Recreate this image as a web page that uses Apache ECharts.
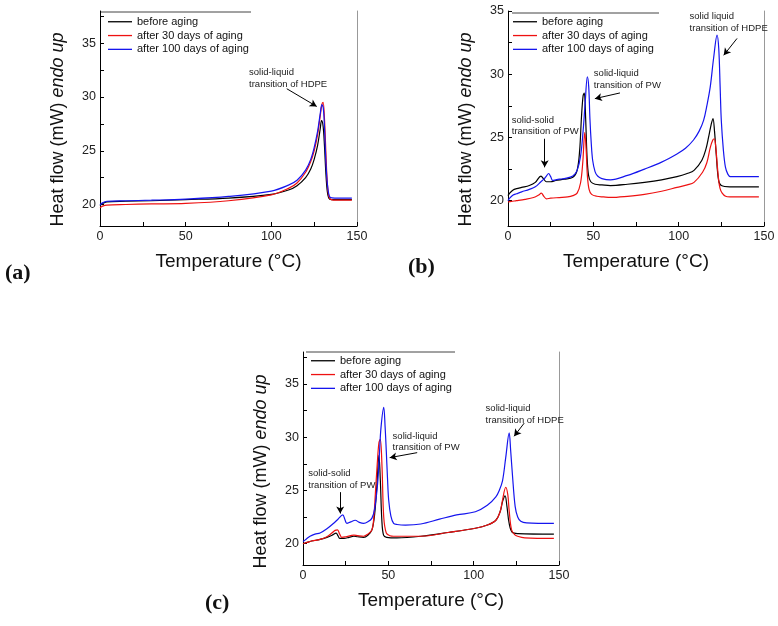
<!DOCTYPE html>
<html>
<head>
<meta charset="utf-8">
<script src="https://cdn.jsdelivr.net/npm/echarts@6/dist/echarts.min.js"></script>
<style>
html,body{margin:0;padding:0;background:#fff;}
#c{width:778px;height:626px;}
</style>
</head>
<body>
<div id="c"></div>
<script>
// ---------- DATA ----------
const seriesNames = ['before aging', 'after 30 days of aging', 'after 100 days of aging'];
const xTickValues = [0, 25, 50, 75, 100, 125, 150];
const xLabelValues = [0, 50, 100, 150];
const yTickValues = [20, 22.5, 25, 27.5, 30, 32.5, 35, 37.5];
const yLabelValues = [20, 25, 30, 35];

// Panel (a)
const aBlackT = [0, 1.5, 4, 15, 30, 50, 75, 100, 110, 115, 120, 123, 125, 127, 128.5, 129.3, 130.2, 131, 131.8, 132.6, 133.5, 135, 138, 147];
const aBlackV = [19.9, 20.1, 20.25, 20.3, 20.35, 20.45, 20.6, 20.95, 21.35, 21.75, 22.5, 23.3, 24.2, 25.5, 27.0, 27.8, 27.3, 25.5, 23.0, 21.3, 20.6, 20.45, 20.45, 20.45];
const aRedT = [0, 1.5, 4, 15, 30, 50, 75, 100, 110, 115, 120, 123, 125, 127, 128.5, 129.5, 130.2, 131, 131.8, 132.5, 133.5, 135, 138, 147];
const aRedV = [19.7, 19.85, 19.95, 20.0, 20.05, 20.1, 20.35, 20.9, 21.5, 22.0, 23.0, 24.0, 25.0, 26.5, 28.2, 29.3, 29.5, 28.0, 25.0, 22.5, 20.8, 20.45, 20.4, 20.4];
const aBlueT = [0, 1.5, 4, 15, 30, 50, 75, 100, 110, 115, 120, 123, 125, 127, 128.5, 129.5, 130.3, 131, 131.7, 132.5, 133.5, 134.5, 137, 147];
const aBlueV = [19.95, 20.15, 20.3, 20.35, 20.4, 20.5, 20.75, 21.25, 21.8, 22.25, 23.2, 24.2, 25.3, 26.8, 28.4, 29.3, 29.0, 27.3, 24.5, 22.3, 21.0, 20.65, 20.6, 20.6];

// Panel (b)
const bBlackT = [0, 1, 3, 5, 8, 12.5, 16, 19.3, 21, 22.5, 25, 28, 33, 38, 40.5, 42, 43, 44, 44.7, 45.5, 46.3, 47.2, 48.5, 51, 55, 60, 70, 80, 90, 99, 105, 109, 113.6, 116, 117.5, 119, 120.1, 121, 122, 123.4, 125, 130, 147];
const bBlackV = [20.4, 20.6, 20.85, 20.95, 21.05, 21.2, 21.45, 21.95, 21.7, 21.5, 21.5, 21.6, 21.7, 21.85, 22.4, 24.0, 26.5, 28.3, 28.5, 26.5, 23.5, 22.0, 21.5, 21.3, 21.25, 21.2, 21.3, 21.45, 21.65, 21.9, 22.15, 22.4, 23.2, 24.1, 25.0, 26.0, 26.5, 25.5, 23.7, 21.6, 21.2, 21.1, 21.1];
const bRedT = [0, 2, 5, 10, 15, 18, 19.5, 21, 22.5, 25, 30, 35, 38, 40.5, 42.5, 43.8, 45, 45.8, 46.5, 47.5, 49, 52, 56, 60, 70, 80, 90, 99, 105, 109, 114, 116.5, 118.5, 120, 120.9, 121.7, 122.5, 123.3, 124.2, 125.5, 127.5, 130, 147];
const bRedV = [19.9, 19.95, 20.0, 20.1, 20.25, 20.45, 20.6, 20.35, 20.15, 20.2, 20.25, 20.3, 20.4, 20.6, 21.4, 23.0, 25.4, 24.0, 22.0, 20.9, 20.5, 20.35, 20.3, 20.26, 20.35, 20.5, 20.75, 21.05, 21.25, 21.45, 22.25, 23.0, 24.2, 24.8, 24.9, 24.3, 23.0, 21.8, 21.0, 20.6, 20.35, 20.3, 20.3];
const bBlueT = [0, 1, 3, 5, 8, 12.5, 16, 19.3, 21, 22.5, 23.8, 25, 26.2, 28, 30, 33, 38, 40.5, 42.5, 44, 45.2, 46.5, 47.3, 48, 48.8, 49.6, 51, 52.5, 55, 60, 70, 80, 90, 99, 104, 108.7, 112, 114.6, 116.5, 118.5, 120.5, 122.5, 123.5, 124.3, 125, 126.2, 127.4, 128.8, 130.3, 147];
const bBlueV = [20.0, 20.2, 20.45, 20.55, 20.7, 20.9, 21.1, 21.5, 21.7, 21.95, 22.15, 21.9, 21.6, 21.65, 21.7, 21.75, 21.95, 22.4, 23.5, 25.5, 27.7, 29.8, 29.0, 26.5, 24.5, 23.2, 22.3, 21.95, 21.75, 21.65, 22.0, 22.5, 23.05, 23.7, 24.15, 24.8, 25.5, 26.35, 27.5, 29.0, 31.3, 33.1, 32.0, 29.0, 26.3, 24.0, 22.65, 22.1, 21.9, 21.9];

// Panel (c)
const cBlackT = [0, 2, 5, 10, 14, 17, 19.4, 20.5, 21.5, 24, 27, 29.8, 32, 35.5, 38, 40.4, 42, 43.3, 44.5, 45.3, 46.2, 47.2, 49, 55, 69, 85, 101, 108, 113, 115.5, 117, 118.4, 119.5, 120.8, 122.7, 126, 147];
const cBlackV = [20.0, 20.1, 20.25, 20.4, 20.6, 20.8, 21.0, 20.75, 20.5, 20.5, 20.6, 20.7, 20.65, 20.6, 20.8, 21.3, 22.8, 25.5, 28.3, 26.0, 22.2, 20.8, 20.6, 20.55, 20.7, 21.05, 21.45, 21.75, 22.2, 23.0, 24.0, 24.5, 23.5, 21.9, 21.05, 20.95, 20.9];
const cRedT = [0, 2, 5, 10, 14, 16.9, 18.8, 20.2, 21.5, 22.7, 25, 29.8, 32, 35.5, 38, 40.4, 41.5, 42.4, 43.5, 44.5, 45.3, 46.3, 47.3, 48.8, 51, 53, 69, 85, 101, 108, 113, 115.5, 116.9, 118.8, 120, 120.8, 122.2, 124, 125.7, 130, 147];
const cRedV = [20.0, 20.1, 20.25, 20.4, 20.65, 21.0, 21.25, 21.3, 20.9, 20.6, 20.65, 20.8, 20.75, 20.7, 20.9, 21.3, 22.5, 24.7, 27.5, 29.5, 29.8, 27.2, 22.5, 21.0, 20.75, 20.7, 20.7, 21.05, 21.45, 21.75, 22.2, 23.0, 24.1, 25.3, 24.6, 23.1, 21.3, 20.85, 20.7, 20.55, 20.5];
const cBlueT = [0, 2, 4.1, 7, 10, 14, 17.8, 20.5, 23.3, 24.5, 25.7, 28, 30.6, 33, 35.5, 38, 40.4, 42, 43.7, 44.8, 45.7, 47.3, 48.1, 48.8, 49.5, 50.2, 51.5, 53.1, 55.1, 60, 69, 80, 90, 101, 108, 113, 115, 116.9, 118.8, 120.8, 121.7, 122.7, 124.3, 125.8, 127.6, 131, 147];
const cBlueV = [20.2, 20.45, 20.7, 20.9, 21.0, 21.4, 21.9, 22.3, 22.7, 22.3, 21.9, 22.05, 22.2, 22.0, 21.9, 22.05, 22.4, 23.3, 25.6, 28.5, 30.9, 32.8, 31.0, 28.7, 26.2, 24.1, 22.6, 21.9, 21.8, 21.75, 21.85, 22.3, 22.7, 23.0, 23.6, 24.4, 25.0, 25.9, 28.1, 30.4, 28.7, 26.5, 23.5, 22.5, 22.1, 21.95, 21.9];

// Annotations: [text, labelT, labelV, arrowFromT, arrowFromV, arrowToT, arrowToV]
const aNotes = [['solid-liquid\ntransition of HDPE', 87, 32.8, 109, 30.77, 126.5, 29.12]];
const bNotes = [
  ['solid-solid\ntransition of PW', 2.2, 26.83, 21.5, 24.9, 21.5, 22.64],
  ['solid-liquid\ntransition of PW', 50.3, 30.5, 65.6, 28.52, 50.9, 28.07],
  ['solid liquid\ntransition of HDPE', 106.4, 35.0, 134.2, 32.83, 126.4, 31.5]
];
const cNotes = [
  ['solid-solid\ntransition of PW', 3.1, 27.13, 21.8, 24.84, 21.8, 22.84],
  ['solid-liquid\ntransition of PW', 52.5, 30.65, 66.9, 28.55, 50.8, 28.08],
  ['solid-liquid\ntransition of HDPE', 107, 33.24, 129.6, 31.32, 123.7, 30.09]
];

// ---------- CHART ----------
const FONT = '"Liberation Sans", Arial, sans-serif';
const colors = ['#000000', '#ee1111', '#1515ee'];
const zip = (t, v) => t.map((x, i) => [x, v[i]]);

const panels = [
  {grid: {left: 100, top: 11, width: 257, height: 215}, ymax: 38, namePad: 22, data: [zip(aBlackT, aBlackV), zip(aRedT, aRedV), zip(aBlueT, aBlueV)], notes: aNotes, legend: {left: 108, top: 16}},
  {grid: {left: 508, top: 11, width: 256, height: 215}, ymax: 35, namePad: 22, data: [zip(bBlackT, bBlackV), zip(bRedT, bRedV), zip(bBlueT, bBlueV)], notes: bNotes, legend: {left: 513, top: 16}},
  {grid: {left: 303, top: 352, width: 256, height: 213}, ymax: 38, namePad: 26, data: [zip(cBlackT, cBlackV), zip(cRedT, cRedV), zip(cBlueT, cBlueV)], notes: cNotes, legend: {left: 311, top: 355}}
];

const grids = [], xAxes = [], yAxes = [], series = [], legends = [];
panels.forEach((p, i) => {
  grids.push(Object.assign({containLabel: false}, p.grid));
  xAxes.push({
    type: 'value', gridIndex: i, min: 0, max: 150,
    axisLine: {show: true, onZero: false, lineStyle: {color: '#000', width: 1}},
    axisTick: {show: true, inside: true, length: 4, customValues: xTickValues, lineStyle: {color: '#000'}},
    axisLabel: {customValues: xLabelValues, fontFamily: FONT, fontSize: 12.5, color: '#222', margin: 4},
    splitLine: {show: false},
    name: 'Temperature (°C)', nameLocation: 'middle', nameGap: 26,
    nameTextStyle: {fontFamily: FONT, fontSize: 19, color: '#111'}
  });
  yAxes.push({
    type: 'value', gridIndex: i, min: 18, max: p.ymax,
    axisLine: {show: true, onZero: false, lineStyle: {color: '#000', width: 1}},
    axisTick: {show: true, inside: true, length: 4, customValues: yTickValues.filter(v => v <= p.ymax), lineStyle: {color: '#000'}},
    axisLabel: {customValues: yLabelValues.filter(v => v <= p.ymax), fontFamily: FONT, fontSize: 12.5, color: '#222', margin: 4},
    splitLine: {show: false},
    name: '{a|Heat flow (mW) }{b|endo up}', nameLocation: 'middle', nameGap: 33,
    nameTextStyle: {fontFamily: FONT, fontSize: 18, color: '#111', padding: [0, p.namePad, 0, 0],
      rich: {a: {fontFamily: FONT, fontSize: 18, color: '#111'}, b: {fontFamily: FONT, fontSize: 18, fontStyle: 'italic', color: '#111'}}}
  });
  legends.push({
    left: p.legend.left, top: p.legend.top, orient: 'vertical', padding: 0, itemGap: 2.3,
    icon: 'rect', itemWidth: 24, itemHeight: 1.3, selectedMode: false,
    data: seriesNames,
    textStyle: {fontFamily: FONT, fontSize: 11, color: '#111', lineHeight: 11.5}
  });
  p.data.forEach((d, k) => {
    const s = {
      type: 'line', name: seriesNames[k], xAxisIndex: i, yAxisIndex: i,
      data: d, symbol: 'none', smooth: 0.35,
      lineStyle: {color: colors[k], width: 1.2}, itemStyle: {color: colors[k]},
      silent: true, animation: false, clip: false
    };
    if (k === 0) {
      s.markPoint = {
        silent: true, animation: false, symbol: 'circle', symbolSize: 0,
        data: p.notes.map(n => ({coord: [n[1], n[2]], value: n[0]})),
        label: {show: true, position: [0, 0], align: 'left', verticalAlign: 'top',
          formatter: q => q.value, fontFamily: FONT, fontSize: 9.5, lineHeight: 11.5, color: '#222'}
      };
      s.markLine = {
        silent: true, animation: false, symbol: ['none', 'arrow'], symbolSize: [6, 7],
        lineStyle: {color: '#000', width: 1, type: 'solid'}, label: {show: false},
        data: p.notes.map(n => [{coord: [n[3], n[4]]}, {coord: [n[5], n[6]]}])
      };
    }
    series.push(s);
  });
});
// right-hand frame lines
panels.forEach((p, i) => {
  yAxes.push({
    type: 'value', gridIndex: i, position: 'right', min: 18, max: p.ymax,
    axisLine: {show: true, onZero: false, lineStyle: {color: '#999', width: 1}},
    axisTick: {show: false}, axisLabel: {show: false}, splitLine: {show: false}
  });
});

const chart = echarts.init(document.getElementById('c'), null, {renderer: 'canvas'});
chart.setOption({
  backgroundColor: '#fff',
  animation: false,
  grid: grids, xAxis: xAxes, yAxis: yAxes, legend: legends, series: series,
  graphic: [
    {type: 'line', shape: {x1: 100, y1: 12, x2: 251, y2: 12}, style: {stroke: '#444', lineWidth: 1}},
    {type: 'line', shape: {x1: 512, y1: 13, x2: 659, y2: 13}, style: {stroke: '#444', lineWidth: 1}},
    {type: 'line', shape: {x1: 306, y1: 352, x2: 455, y2: 352}, style: {stroke: '#444', lineWidth: 1}},
    {type: 'text', left: 5, top: 262, style: {text: '(a)', font: 'bold 22px "Liberation Serif", serif', fill: '#111'}},
    {type: 'text', left: 408, top: 256, style: {text: '(b)', font: 'bold 22px "Liberation Serif", serif', fill: '#111'}},
    {type: 'text', left: 205, top: 592, style: {text: '(c)', font: 'bold 22px "Liberation Serif", serif', fill: '#111'}}
  ]
});
</script>
</body>
</html>
